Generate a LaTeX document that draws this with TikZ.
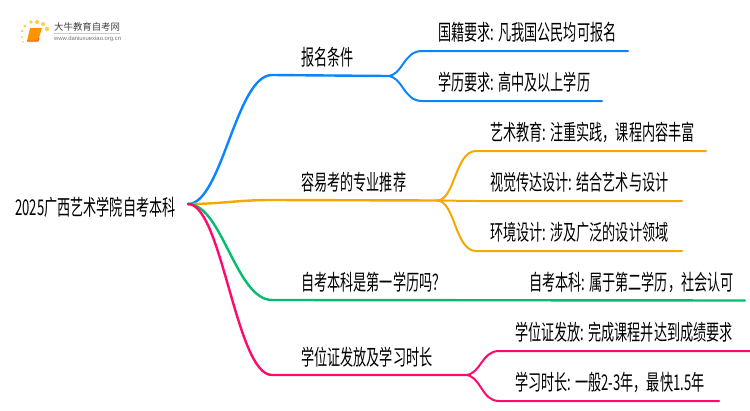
\documentclass[tikz,border=0pt]{standalone}
\usepackage{fontspec}
\setmainfont{Noto Sans CJK SC}[FakeStretch=0.605]
\newfontfamily\logofont{Liberation Sans}
\newfontfamily\logocjk{Noto Sans CJK SC}
\definecolor{cblue}{HTML}{0A84FF}
\definecolor{corange}{HTML}{F5A800}
\definecolor{cgreen}{HTML}{00BE6E}
\definecolor{cpink}{HTML}{FF0A6C}
\tikzset{
 lab/.style={anchor=west,inner sep=0pt,font=\fontsize{#1}{#1}\selectfont,text=black},
 lab/.default=21.7,
 br/.style={line width=2.4pt,line cap=round},
 twig/.style={line width=2pt,line cap=round},
}
\begin{document}
\begin{tikzpicture}[x=1pt,y=-1pt]
\useasboundingbox (0,0) rectangle (750,410);
% logo
\foreach \a/\b/\r in {23/42/.8,22/37/1,22/31/1.4,25/26/1.6,31/22/1.9,37/22/2.1,43/24/2,47/29/2.2}{\fill[orange!55!yellow!70] (\a,\b) circle(\r);}
\fill[orange!85!yellow] (30,28) -- (42,28) -- (38,41) -- (27,41) -- cycle;
\draw[orange!70!red,line width=1pt] (27,41) -- (38,41) -- (39,38);
\node[anchor=west,inner sep=0pt,text=black!75,font=\logocjk\fontsize{9.4}{10}\selectfont] (logoa) at (54,27) {大牛教育自考网};
\node[anchor=west,inner sep=0pt,text=black!55,font=\logofont\fontsize{5.9}{6}\selectfont] (logob) at (54,38.5) {www.daniuxuexiao.org.cn};
\draw[black!20,line width=.5pt] (54,33) -- (120,33);
% root
\node[lab] (root) at (15,207) {2025广西艺术学院自考本科};
\coordinate (o) at (188,204);
% level 1
\node[lab] (a) at (301,57) {报名条件};
\node[lab] (b) at (301,182) {容易考的专业推荐};
\node[lab] (c) at (301,282) {自考本科是第一学历吗？};
\node[lab] (d) at (301,357) {学位证发放及学习时长};
% leaves
\node[lab] (a1) at (438,32) {国籍要求: 凡我国公民均可报名};
\node[lab] (a2) at (438,82) {学历要求: 高中及以上学历};
\node[lab] (b1) at (490,132) {艺术教育: 注重实践，课程内容丰富};
\node[lab] (b2) at (490,182) {视觉传达设计: 结合艺术与设计};
\node[lab] (b3) at (490,232) {环境设计: 涉及广泛的设计领域};
\node[lab] (c1) at (529,282) {自考本科: 属于第二学历，社会认可};
\node[lab] (d1) at (515,332) {学位证发放: 完成课程并达到成绩要求};
\node[lab] (d2) at (515,382) {学习时长: 一般2-3年，最快1.5年};
% connectors
\coordinate (af) at (387,76);
\coordinate (bf) at (437,200.5);
\coordinate (df) at (465,375);
\draw[br,cblue] (o) .. controls (222,204) and (236,75) .. (272,75) -- (af);
\draw[twig,cblue] (af) .. controls (403,76) and (403,51) .. (422,51) -- (628,51);
\draw[twig,cblue] (af) .. controls (403,76) and (403,101) .. (422,101) -- (602,101);
\draw[br,corange] (o) .. controls (222,204) and (236,200) .. (272,200) -- (bf);
\draw[twig,corange] (bf) .. controls (455,200.5) and (455,151) .. (476,151) -- (706,151);
\draw[twig,corange] (bf) -- (476,201) -- (682,201);
\draw[twig,corange] (bf) .. controls (455,200.5) and (455,251) .. (476,251) -- (682,251);
\draw[br,cgreen] (o) .. controls (222,204) and (236,300) .. (272,300) -- (745,300.5);
\draw[br,cpink] (o) .. controls (222,204) and (236,375) .. (272,375) -- (df);
\draw[twig,cpink] (df) .. controls (481,375) and (481,351) .. (499,351) -- (750,351);
\draw[twig,cpink] (df) .. controls (481,375) and (481,401) .. (499,401) -- (719,401);
\end{tikzpicture}
\end{document}
